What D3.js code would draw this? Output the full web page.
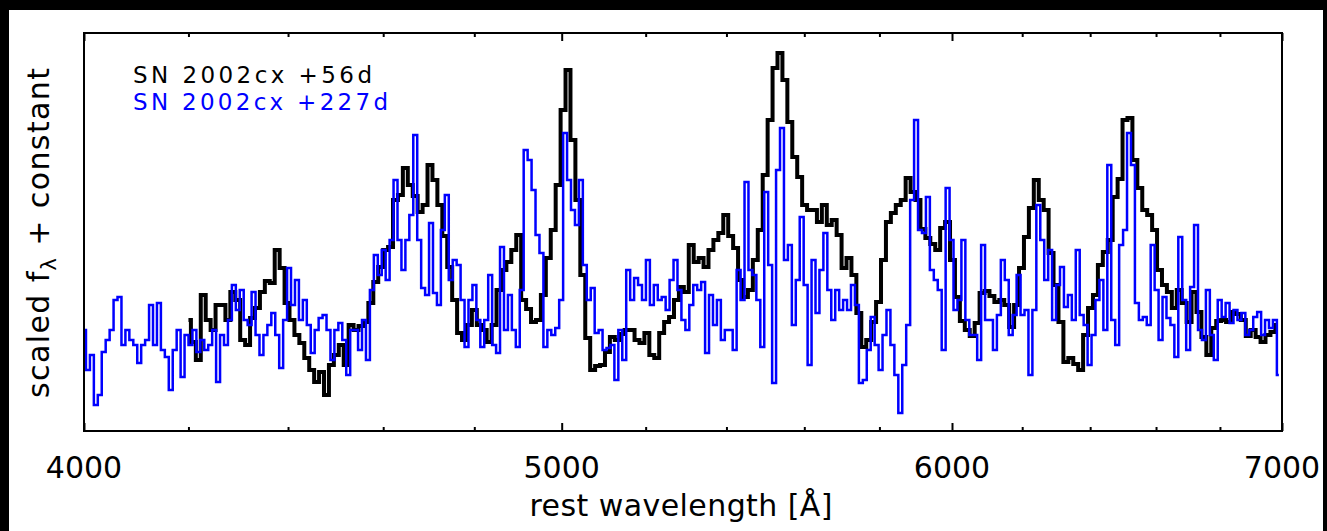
<!DOCTYPE html>
<html>
<head>
<meta charset="utf-8">
<script src="https://cdn.jsdelivr.net/npm/d3@7"></script>
<style>
  html, body { margin: 0; padding: 0; background: #000; }
  svg { display: block; }
  text { font-family: "DejaVu Sans", sans-serif; }
</style>
</head>
<body>
<svg id="chart" width="1327" height="531"></svg>
<script>
// tick labels
const majorTicks = [4000, 5000, 6000, 7000];
const minorTicks = [4200, 4400, 4600, 4800, 5200, 5400, 5600, 5800, 6200, 6400, 6600, 6800];
const seriesNames = ['SN 2002cx +56d', 'SN 2002cx +227d'];

// +56d spectrum, log-linear dispersion: log10(wl) = log10(start) + i*step
const earlyStart = 4200;
const earlyLogStep = 0.001;
const earlyFlux = [
  111, 89, 71, 136, 111, 101, 126, 126, 111, 139,
  131, 91, 86, 113, 123, 139, 150, 148, 181, 163,
  128, 111, 96, 88, 73, 61, 49, 59, 36, 66,
  76, 86, 66, 106, 101, 105, 109, 128, 149, 164,
  181, 184, 231, 236, 263, 246, 235, 219, 226, 266,
  251, 226, 195, 164, 131, 98, 91, 106, 121, 106,
  101, 89, 106, 141, 161, 169, 181, 196, 131, 122,
  109, 111, 136, 173, 201, 246, 321, 361, 291, 231,
  156, 93, 61, 65, 66, 79, 94, 91, 97, 101,
  101, 91, 88, 98, 76, 73, 98, 109, 114, 131,
  144, 139, 186, 169, 173, 164, 181, 191, 198, 216,
  195, 183, 151, 134, 141, 171, 201, 256, 311, 363,
  378, 351, 309, 274, 254, 226, 221, 221, 209, 226,
  206, 211, 196, 163, 173, 156, 118, 84, 91, 109,
  129, 171, 209, 218, 226, 231, 253, 239, 231, 202,
  193, 187, 181, 203, 209, 171, 134, 110, 101, 95,
  108, 138, 140, 135, 129, 131, 126, 104, 126, 163,
  194, 223, 251, 231, 221, 178, 146, 109, 69, 73,
  67, 61, 96, 123, 136, 166, 179, 191, 234, 252,
  311, 313, 271, 243, 221, 216, 201, 161, 146, 139,
  123, 141, 128, 109, 139, 119, 94, 76, 103, 110,
  111, 109, 119, 117, 111, 95, 101, 94, 89, 96,
  99, 106
];

// +227d spectrum
const lateStart = 4000;
const lateLogStep = 0.0008;
const lateFlux = [
  101, 61, 76, 26, 36, 79, 91, 101, 131, 134,
  86, 101, 91, 86, 68, 86, 91, 126, 86, 128,
  81, 74, 41, 81, 101, 54, 96, 86, 101, 79,
  91, 81, 86, 101, 49, 96, 86, 111, 146, 121,
  141, 111, 106, 139, 96, 76, 96, 106, 118, 96,
  63, 111, 163, 126, 151, 111, 131, 106, 78, 101,
  113, 116, 101, 71, 101, 108, 91, 56, 101, 101,
  81, 111, 71, 141, 176, 156, 181, 151, 191, 251,
  191, 161, 191, 216, 296, 191, 143, 136, 208, 138,
  126, 201, 236, 151, 171, 166, 131, 84, 131, 146,
  111, 84, 111, 156, 86, 78, 184, 101, 136, 101,
  84, 141, 281, 271, 241, 196, 178, 84, 101, 96,
  103, 131, 298, 251, 221, 206, 251, 166, 131, 143,
  98, 101, 81, 83, 86, 51, 101, 71, 161, 131,
  153, 146, 131, 171, 126, 146, 131, 134, 121, 151,
  171, 141, 111, 101, 126, 146, 141, 149, 78, 136,
  106, 131, 91, 101, 101, 81, 161, 131, 249, 161,
  156, 131, 84, 239, 166, 48, 261, 303, 171, 186,
  106, 151, 214, 146, 66, 171, 118, 161, 198, 141,
  111, 141, 121, 131, 121, 146, 126, 48, 51, 81,
  114, 86, 61, 96, 121, 86, 56, 18, 66, 106,
  231, 311, 201, 198, 234, 161, 151, 141, 81, 243,
  191, 121, 131, 191, 111, 96, 96, 71, 186, 111,
  111, 81, 116, 171, 151, 96, 116, 156, 116, 121,
  56, 121, 226, 191, 151, 181, 111, 146, 164, 124,
  136, 111, 181, 116, 106, 66, 96, 131, 151, 101,
  266, 111, 86, 186, 201, 298, 266, 128, 111, 114,
  106, 186, 141, 91, 134, 113, 106, 74, 194, 131,
  81, 144, 206, 101, 91, 141, 96, 71, 131, 114,
  128, 108, 121, 111, 118, 96, 101, 114, 119, 96,
  111, 103, 111, 56
];

const WIDTH = 1327, HEIGHT = 531;
const PLOT = { left: 84, right: 1282, top: 33, bottom: 431 };

const svg = d3.select('#chart');

svg.append('rect')
  .attr('x', 9).attr('y', 10)
  .attr('width', 1314).attr('height', HEIGHT - 10)
  .attr('fill', '#fff');

const x = d3.scaleLog().domain([4000, 7000]).range([PLOT.left, PLOT.right]);
const y = d3.scaleLinear().domain([0, 398]).range([PLOT.bottom, PLOT.top]);

const toPoints = (flux, start, step) => flux.map((f, i) => ({ wl: start * Math.pow(10, i * step), f: f }));
const early = toPoints(earlyFlux, earlyStart, earlyLogStep);
const late = toPoints(lateFlux, lateStart, lateLogStep);

const line = d3.line()
  .x(d => x(d.wl))
  .y(d => y(d.f))
  .curve(d3.curveStep);

svg.append('path')
  .datum(early)
  .attr('d', line)
  .attr('fill', 'none')
  .attr('stroke', '#000')
  .attr('stroke-width', 4)
  .attr('stroke-linejoin', 'miter');

svg.append('path')
  .datum(late)
  .attr('d', line)
  .attr('fill', 'none')
  .attr('stroke', '#0000ff')
  .attr('stroke-width', 2.5);

// axes: ticks point inward on bottom and top
function tickAxis(axis, yPos, values, size) {
  const g = svg.append('g')
    .attr('transform', `translate(0,${yPos})`)
    .call(axis.tickValues(values).tickSize(-size).tickSizeOuter(0).tickFormat(''));
  g.select('.domain').remove();
  g.selectAll('line').attr('stroke', '#000').attr('stroke-width', 2);
  return g;
}
tickAxis(d3.axisBottom(x), PLOT.bottom, majorTicks, 8);
tickAxis(d3.axisBottom(x), PLOT.bottom, minorTicks, 4);
tickAxis(d3.axisTop(x), PLOT.top, majorTicks, 8);
tickAxis(d3.axisTop(x), PLOT.top, minorTicks, 4);

svg.append('g')
  .selectAll('text')
  .data(majorTicks)
  .join('text')
  .attr('x', d => x(d))
  .attr('y', 478)
  .attr('text-anchor', 'middle')
  .attr('font-size', 30)
  .attr('fill', '#000')
  .text(d => d);

svg.append('rect')
  .attr('x', PLOT.left).attr('y', PLOT.top)
  .attr('width', PLOT.right - PLOT.left)
  .attr('height', PLOT.bottom - PLOT.top)
  .attr('fill', 'none')
  .attr('stroke', '#000')
  .attr('stroke-width', 2);

svg.append('text')
  .attr('x', 681).attr('y', 516)
  .attr('text-anchor', 'middle')
  .attr('font-size', 30)
  .attr('textLength', 303)
  .attr('lengthAdjust', 'spacing')
  .text('rest wavelength [Å]');

const ylab = svg.append('text')
  .attr('transform', 'translate(49,233) rotate(-90)')
  .attr('text-anchor', 'middle')
  .attr('font-size', 30)
  .attr('textLength', 330)
  .attr('lengthAdjust', 'spacing');
ylab.append('tspan').text('scaled f');
ylab.append('tspan').attr('font-size', 21).attr('dy', 7).text('λ');
ylab.append('tspan').attr('dy', -7).text(' + constant');

// legend
const legendColors = ['#000', '#0000ff'];
const legendLengths = [239, 255];
svg.append('g')
  .selectAll('text')
  .data(seriesNames)
  .join('text')
  .attr('x', 133)
  .attr('y', (d, i) => 83 + i * 27)
  .attr('font-size', 23)
  .attr('fill', (d, i) => legendColors[i])
  .attr('textLength', (d, i) => legendLengths[i])
  .attr('lengthAdjust', 'spacing')
  .text(d => d);
</script>
</body>
</html>
